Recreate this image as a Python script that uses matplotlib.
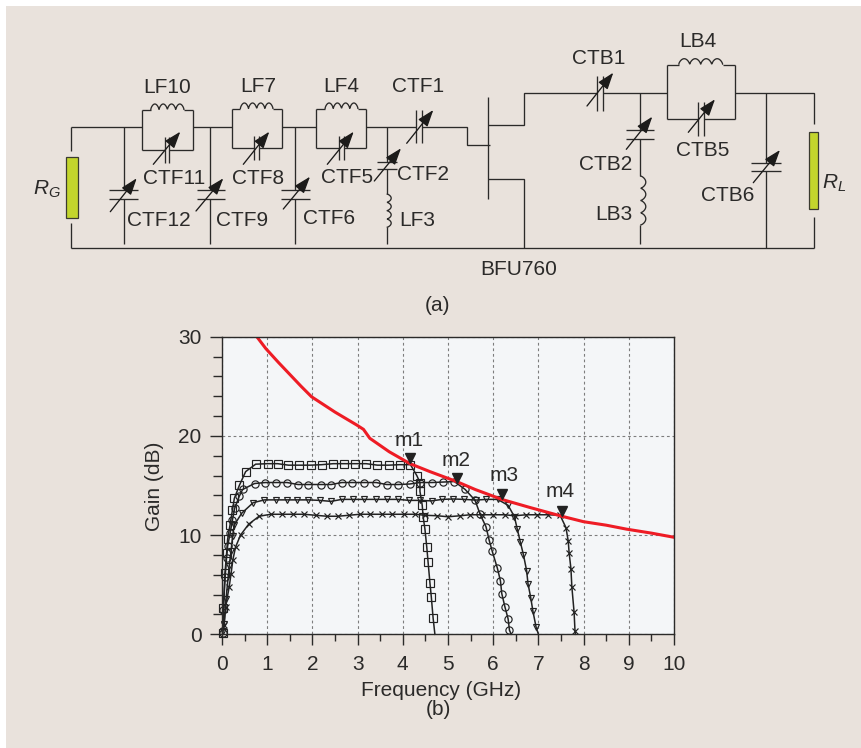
import numpy as np
import matplotlib
matplotlib.use('Agg')
import matplotlib.pyplot as plt
from matplotlib.patches import Rectangle
from matplotlib.ticker import MultipleLocator

plt.rcParams['font.family'] = ['Liberation Sans', 'DejaVu Sans']
plt.rcParams['mathtext.fontset'] = 'custom'
plt.rcParams['mathtext.rm'] = 'Liberation Sans'
plt.rcParams['mathtext.it'] = 'Liberation Sans:italic'

INK = '#2b2a29'
BEIGE = '#e9e2dc'
PANEL = '#f4f6f8'
RED = '#ee1c25'
GREEN = '#c3d52d'

# gain curves, (b) panel
f_square = [0.015, 0.03, 0.066, 0.103, 0.125, 0.177, 0.23, 0.273, 0.383, 0.523, 0.745, 1.01, 1.23, 1.47, 1.71, 1.96,
            2.21, 2.46, 2.69, 2.94, 3.19, 3.44, 3.69, 3.93, 4.17, 4.31, 4.38, 4.38, 4.43, 4.45, 4.49, 4.53, 4.56, 4.6,
            4.63, 4.67, 4.71]
g_square = [0.16, 2.62, 6.2, 8.2, 9.6, 11.0, 12.5, 13.7, 15.0, 16.4, 17.15, 17.2, 17.2, 17.05, 17.05, 17.05,
            17.1, 17.2, 17.2, 17.2, 17.2, 17.05, 17.05, 17.1, 17.1, 16.0, 15.3, 14.4, 13.0, 11.85, 10.6, 8.8, 7.25, 5.2,
            3.8, 1.67, 0.0]
f_circle = [0.015, 0.03, 0.07, 0.1, 0.125, 0.18, 0.23, 0.28, 0.38, 0.456, 0.72, 0.96, 1.2, 1.44, 1.68, 1.9, 2.19, 2.42,
            2.65, 2.88, 3.15, 3.41, 3.64, 3.9, 4.15, 4.38, 4.65, 4.9, 5.14, 5.38, 5.6, 5.71, 5.84, 5.91, 5.98, 6.09,
            6.16, 6.19, 6.26, 6.33, 6.36, 6.4]
g_circle = [0.1, 2.5, 5.8, 7.7, 8.9, 10.2, 11.5, 12.7, 13.9, 14.6, 15.2, 15.3, 15.3, 15.3, 15.1, 15.1, 15.1, 15.1,
            15.3, 15.3, 15.3, 15.3, 15.1, 15.1, 15.15, 15.3, 15.3, 15.35, 15.4, 14.6, 13.5, 12.1, 10.85, 9.5, 8.35, 6.7,
            5.4, 4.1, 2.75, 1.55, 0.4, 0.0]
f_tri = [0.015, 0.05, 0.09, 0.16, 0.2, 0.235, 0.27, 0.435, 0.69, 0.94, 1.19, 1.43, 1.67, 1.91, 2.16, 2.41, 2.65, 2.9,
         3.15, 3.4, 3.65, 3.9, 4.14, 4.38, 4.64, 4.87, 5.12, 5.36, 5.61, 5.85, 6.1, 6.33, 6.47, 6.53, 6.6, 6.67, 6.74,
         6.77, 6.83, 6.88, 6.95, 7.0]
g_tri = [0.3, 1.0, 3.6, 6.9, 8.4, 9.9, 11.0, 12.2, 13.27, 13.55, 13.55, 13.55, 13.55, 13.55, 13.5, 13.4, 13.6, 13.6,
         13.6, 13.6, 13.6, 13.6, 13.5, 13.5, 13.45, 13.6, 13.64, 13.6, 13.53, 13.6, 13.6, 13.0, 11.85, 10.65, 9.3, 8.0,
         6.4, 5.1, 3.7, 2.3, 0.7, 0.0]
f_cross = [0.04, 0.08, 0.16, 0.2, 0.24, 0.3, 0.41, 0.59, 0.82, 1.08, 1.32, 1.56, 1.81, 2.07, 2.32, 2.56, 2.81, 3.05,
           3.28, 3.53, 3.77, 4.02, 4.27, 4.49, 4.76, 5.0, 5.27, 5.49, 5.76, 5.99, 6.25, 6.48, 6.73, 6.97, 7.22, 7.48,
           7.61, 7.66, 7.68, 7.72, 7.74, 7.79, 7.81, 7.82]
g_cross = [0.9, 2.8, 4.8, 6.1, 7.5, 8.8, 10.0, 11.1, 11.9, 12.1, 12.1, 12.1, 12.1, 12.0, 11.9, 11.9, 12.0, 12.1,
           12.1, 12.1, 12.1, 12.1, 12.1, 12.0, 11.95, 11.85, 11.95, 12.05, 12.05, 12.05, 12.05, 11.95, 12.05, 12.05,
           12.05, 12.0, 10.75, 9.4, 8.2, 6.6, 4.8, 2.2, 0.3, 0.0]
f_red = [0.77, 0.97, 1.25, 1.5, 1.75, 1.98, 2.5, 2.98, 3.13, 3.27, 3.7, 4.16, 4.6, 5.19, 5.6, 6.19, 6.8, 7.52, 8.0,
         8.5, 8.95, 9.5, 10.0]
g_red = [30.0, 28.8, 27.4, 26.2, 25.0, 23.95, 22.4, 21.1, 20.66, 19.76, 18.4, 17.2, 16.4, 15.4, 14.6, 13.6, 12.8, 11.9,
         11.35, 11.0, 10.6, 10.2, 9.78]
m_names = ['m1', 'm2', 'm3', 'm4']
m_f = [4.16, 5.19, 6.2, 7.52]
m_g = [17.8, 15.8, 14.15, 12.45]


def wire(ax, xs, ys):
    ax.plot(xs, ys, color=INK, lw=0.95, solid_capstyle='butt', solid_joinstyle='miter')


def arrow(ax, x0, y0, x1, y1):
    ax.annotate('', xy=(x1, y1), xytext=(x0, y0),
                arrowprops=dict(arrowstyle='-|>,head_length=0.85,head_width=0.3', color='#1c1b1a', lw=0.95,
                                shrinkA=0, shrinkB=0, mutation_scale=12))


def coil(ax, x0, x1, y, n=4, h=6.0, vertical=False):
    # n half-circle bumps between x0 and x1, bulging to -y (or +x if vertical)
    t = np.linspace(0, 1, 200)
    u = x0 + (x1 - x0) * t
    v = np.abs(np.sin(np.pi * n * t)) ** 0.6 * h
    if vertical:
        wire(ax, y + v, u)
    else:
        wire(ax, u, y - v)


def shunt_cap(ax, x0, x1, y0, y1, arrow_xy):
    wire(ax, [x0, x1], [y0, y0])
    wire(ax, [x0, x1], [y1, y1])
    arrow(ax, *arrow_xy)


def series_cap(ax, x0, x1, y0, y1, arrow_xy):
    wire(ax, [x0, x0], [y0, y1])
    wire(ax, [x1, x1], [y0, y1])
    arrow(ax, *arrow_xy)


def tank(ax, x0, x1, top, bot, rail, c0, c1, p0, p1, arrow_xy, cx0, cx1):
    # inductor on top, variable capacitor on the bottom wire
    wire(ax, [x0, x0], [top, bot])
    wire(ax, [x1, x1], [top, bot])
    wire(ax, [x0, cx0], [top, top])
    wire(ax, [cx1, x1], [top, top])
    coil(ax, cx0, cx1, top)
    wire(ax, [x0, c0], [bot, bot])
    wire(ax, [c1, x1], [bot, bot])
    series_cap(ax, c0, c1, p0, p1, arrow_xy)


fig = plt.figure(figsize=(8.61, 7.48), dpi=100, facecolor='white')

# whole figure pixel canvas for the schematic and the captions
sch = fig.add_axes([0, 0, 1, 1])
sch.set_xlim(0, 861)
sch.set_ylim(748, 0)
sch.axis('off')
sch.add_patch(Rectangle((6, 6), 855, 742, facecolor=BEIGE, edgecolor='none'))

top_l = 126.7
top_r = 92.7
bot = 247.7

# input side
wire(sch, [71.3, 71.3], [150.7, top_l])
wire(sch, [71.3, 142.3], [top_l, top_l])
wire(sch, [192.7, 231.7], [top_l, top_l])
wire(sch, [281.7, 316.3], [top_l, top_l])
wire(sch, [366.3, 415.7], [top_l, top_l])
wire(sch, [422.3, 467.3, 467.3, 490], [top_l, top_l, 144.7, 144.7])
wire(sch, [71.3, 71.3], [223, bot])
wire(sch, [71.3, 813.7], [bot, bot])
sch.add_patch(Rectangle((66, 156.7), 11.7, 61, facecolor=GREEN, edgecolor='#3a3a30', lw=0.9))

tank(sch, 142.3, 192.7, 110, 149.7, top_l, 164.7, 169.3, 137.3, 162.7, (153.3, 164.3, 180.3, 131.7), 150.7, 184)
tank(sch, 231.7, 281.7, 109, 148.3, top_l, 254, 259.3, 136, 160, (243.3, 164.3, 269.3, 131.7), 240.3, 273)
tank(sch, 316.3, 366.3, 109, 148.3, top_l, 339, 343.7, 136, 160, (327.3, 164.3, 353.7, 131.7), 325, 358)
for x in [123.7, 210.3, 295]:
    wire(sch, [x, x], [top_l, 189.7])
    wire(sch, [x, x], [198.7, 244])
shunt_cap(sch, 109, 137.7, 189.7, 198.7, (110.3, 211.7, 136.7, 178.3))
shunt_cap(sch, 196.7, 225, 189.7, 198.7, (196, 211, 223.3, 178.3))
shunt_cap(sch, 281.3, 309.7, 189.7, 198.7, (283.3, 209, 310, 176.7))
series_cap(sch, 415.7, 422.3, 110, 143.3, (406.7, 143.3, 433.3, 110))
wire(sch, [386.7, 386.7], [top_l, 162.3])
wire(sch, [386.7, 386.7], [169, 194])
shunt_cap(sch, 377, 396.7, 162.3, 169, (374.3, 181, 401, 148.3))
coil(sch, 194, 227.3, 386.7, h=4.5, vertical=True)
wire(sch, [386.7, 386.7], [227.3, 244])

# transistor
wire(sch, [487.7, 487.7], [96.7, 199])
wire(sch, [487.7, 524, 524, 596.7], [125, 125, top_r, top_r])
wire(sch, [487.7, 524, 524], [179.3, 179.3, bot])

# output side
series_cap(sch, 596.7, 603.3, 76, 111, (587, 106, 613.3, 72.7))
wire(sch, [603.3, 666.7], [top_r, top_r])
wire(sch, [640.3, 640.3], [top_r, 129.7])
shunt_cap(sch, 626.3, 653.7, 129.7, 139, (626.3, 149.3, 652.3, 116.7))
wire(sch, [640.3, 640.3], [139, 176])
coil(sch, 176, 225, 640.3, h=5.5, vertical=True)
wire(sch, [640.3, 640.3], [225, 244])
tank(sch, 666.7, 735, 64.7, 119, top_r, 697.7, 704, 101.7, 136, (688.3, 132.3, 715, 99.3), 678.7, 722.7)
wire(sch, [735, 813.7, 813.7], [top_r, top_r, 124])
wire(sch, [765.7, 765.7], [top_r, 163])
wire(sch, [765.7, 765.7], [171, bot])
shunt_cap(sch, 751.3, 780.7, 163, 171, (753.3, 182.7, 780, 150))
wire(sch, [813.7, 813.7], [216.7, bot])
sch.add_patch(Rectangle((808.7, 132.3), 9.6, 77, facecolor=GREEN, edgecolor='#3a3a30', lw=0.9))

part_labels = [('LF10', 167, 85.7), ('LF7', 258.3, 85), ('LF4', 341, 85), ('CTF1', 418, 85.3),
               ('CTF11', 174.3, 177.3), ('CTF8', 258.3, 177.3), ('CTF5', 347, 176.3), ('CTF2', 422.7, 173.3),
               ('CTF12', 158.7, 219.3), ('CTF9', 242, 219.3), ('CTF6', 328.7, 217.3), ('LF3', 417.7, 219.3),
               ('CTB1', 598.7, 56.7), ('LB4', 698.3, 40), ('CTB5', 702.3, 149.3), ('CTB2', 605.3, 163.3),
               ('LB3', 613.7, 213.3), ('CTB6', 727.7, 194.3), ('BFU760', 519, 267.7), ('(a)', 437, 304),
               ('(b)', 438, 708), ('$R_G$', 47.3, 188), ('$R_L$', 834, 181.7)]
for name, x, y in part_labels:
    sch.text(x, y + 1.5, name, fontsize=15, color=INK, ha='center', va='center')

# gain plot
ax = fig.add_axes([222 / 861, (748 - 634.3) / 748, 452 / 861, 297.6 / 748], facecolor=PANEL)
ax.set_xlim(0, 10)
ax.set_ylim(0, 30)
ax.grid(True, which='major', color='#7d7d7d', ls=(0, (2.5, 2.5)), lw=0.8)
ax.set_axisbelow(True)
for fs, gs, mk, ms in [(f_square, g_square, 's', 5.2), (f_circle, g_circle, 'o', 5.2),
                       (f_tri, g_tri, 'v', 5.0), (f_cross, g_cross, 'x', 4.2)]:
    ax.plot(fs, gs, color='#222222', lw=1.1, clip_on=False)
    ax.plot(fs[:-1], gs[:-1], ls='none', marker=mk, ms=ms, mfc='none', mec='#222222', mew=0.85, clip_on=False)
ax.plot(f_red, g_red, color=RED, lw=2.2)
ax.plot(m_f, m_g, ls='none', marker='v', ms=7.5, color='#222222')
for name, x, y in zip(m_names, [4.15, 5.17, 6.25, 7.47], [19.55, 17.55, 16.05, 14.35]):
    ax.text(x, y, name, fontsize=15, color=INK, ha='center', va='center')

ax.xaxis.set_major_locator(MultipleLocator(1))
ax.xaxis.set_minor_locator(MultipleLocator(0.5))
ax.yaxis.set_major_locator(MultipleLocator(10))
ax.yaxis.set_minor_locator(MultipleLocator(2))
ax.tick_params(axis='x', which='major', length=8, width=1.0, color=INK, labelcolor=INK, labelsize=15, pad=7)
ax.tick_params(axis='x', which='minor', length=4.7, width=1.0, color=INK)
ax.tick_params(axis='y', which='major', length=8.6, width=1.0, color=INK, labelcolor=INK, labelsize=15, pad=6)
ax.tick_params(axis='y', which='minor', length=6.2, width=1.0, color=INK)
for s in ax.spines.values():
    s.set_color(INK)
    s.set_linewidth(1.0)

sch.text(441, 690.5, 'Frequency (GHz)', fontsize=15, color=INK, ha='center', va='center')
sch.text(154, 486, 'Gain (dB)', fontsize=15, color=INK, ha='center', va='center', rotation=90)

fig.savefig('out.png', dpi=100, facecolor='white')
